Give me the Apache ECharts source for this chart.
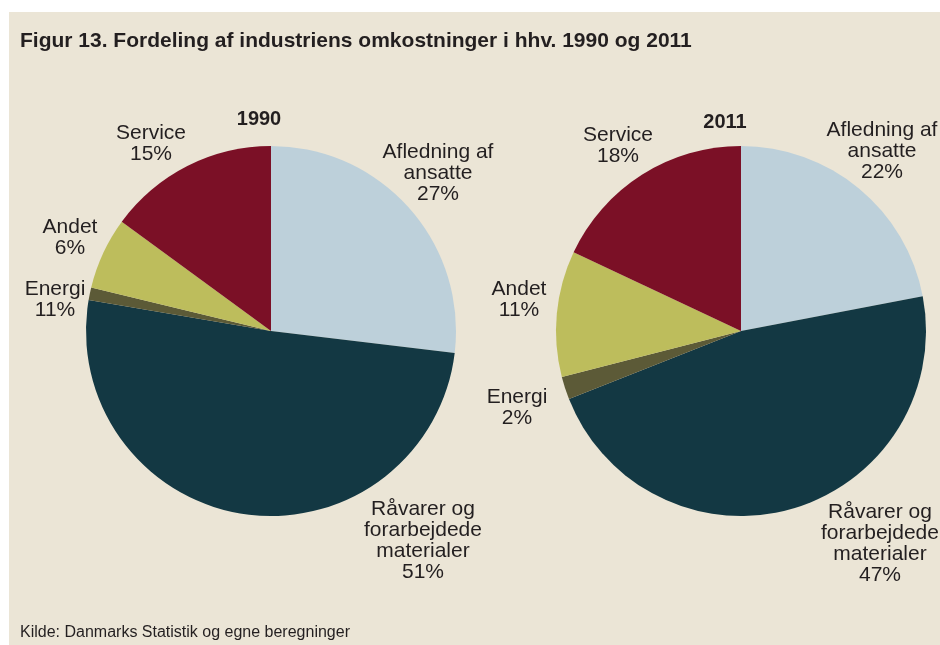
<!DOCTYPE html>
<html>
<head>
<meta charset="utf-8">
<script src="https://cdn.jsdelivr.net/npm/echarts@6/dist/echarts.min.js"></script>
<style>
  html, body { margin: 0; padding: 0; background: #fff; }
  #chart { width: 940px; height: 645px; }
</style>
</head>
<body>
<div id="chart"></div>
<script>
// data
const categories = ['Afledning af\nansatte', 'Råvarer og\nforarbejdede\nmaterialer', 'Energi', 'Andet', 'Service']
const values1990 = [27, 51, 1.1, 6.3, 15]
const values2011 = [22, 47, 2, 11, 18]
// percent labels as printed in the figure
const pct1990 = ['27%', '51%', '11%', '6%', '15%']
const pct2011 = ['22%', '47%', '2%', '11%', '18%']
const colors = ['#bdd0da', '#133843', '#5c5a37', '#bdbd5c', '#7b1026']

const chart = echarts.init(document.getElementById('chart'))

// label anchor points (center of text block) per slice
const pos1990 = [[438, 173], [423, 541], [55, 300], [70, 238], [151, 144]]
const pos2011 = [[882, 151], [880, 544], [517, 408], [519, 300], [618, 146]]

const makePie = (center, values, pct, pos) => ({
  type: 'pie',
  center: center,
  radius: 185,
  startAngle: 90,
  clockwise: true,
  silent: true,
  emphasis: { disabled: true },
  data: values.map((v, i) => ({ name: categories[i], value: v, itemStyle: { color: colors[i] } })),
  label: {
    show: true,
    position: 'outside',
    formatter: p => categories[p.dataIndex] + '\n' + pct[p.dataIndex],
    fontFamily: 'Liberation Sans, Arial, sans-serif',
    fontSize: 21,
    lineHeight: 21,
    color: '#231f20',
    align: 'center',
    overflow: 'none'
  },
  labelLine: { show: false },
  labelLayout: p => ({ x: pos[p.dataIndex][0], y: pos[p.dataIndex][1], align: 'center', verticalAlign: 'middle' })
})

chart.setOption({
  animation: false,
  backgroundColor: '#fff',
  graphic: [
    { type: 'rect', left: 9, top: 12, shape: { width: 931, height: 633 }, style: { fill: '#ebe5d6' }, z: -10 },
    { type: 'text', left: 20, top: 31, style: { text: 'Figur 13. Fordeling af industriens omkostninger i hhv. 1990 og 2011', font: 'bold 21px "Liberation Sans", Arial, sans-serif', fill: '#231f20' } },
    { type: 'text', x: 259, y: 119, style: { text: '1990', font: 'bold 20px "Liberation Sans", Arial, sans-serif', fill: '#231f20', align: 'center', verticalAlign: 'middle' } },
    { type: 'text', x: 725, y: 122, style: { text: '2011', font: 'bold 20px "Liberation Sans", Arial, sans-serif', fill: '#231f20', align: 'center', verticalAlign: 'middle' } },
    { type: 'text', left: 20, top: 625, style: { text: 'Kilde: Danmarks Statistik og egne beregninger', font: '16px "Liberation Sans", Arial, sans-serif', fill: '#231f20' } }
  ],
  series: [
    makePie([271, 331], values1990, pct1990, pos1990),
    makePie([741, 331], values2011, pct2011, pos2011)
  ]
})
</script>
</body>
</html>
